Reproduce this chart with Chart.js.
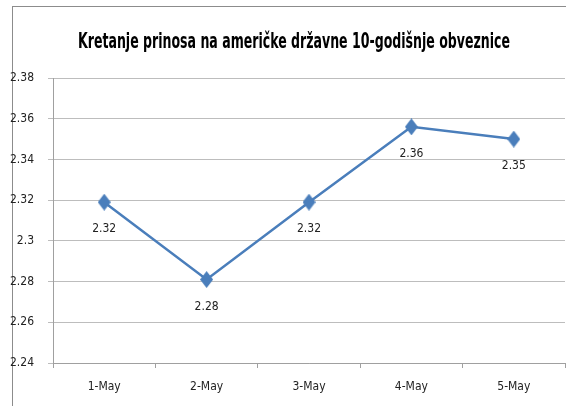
<!DOCTYPE html>
<html>
<head>
<meta charset="utf-8">
<script src="https://cdn.jsdelivr.net/npm/chart.js@4.4.1/dist/chart.umd.min.js"></script>
<style>
  html, body { margin: 0; padding: 0; background: #fff; }
  #wrap { position: relative; width: 566px; height: 406px; overflow: hidden; }
  #frame { position: absolute; left: 12px; top: 6px; width: 600px; height: 500px;
           border-left: 1px solid #8c8c8c; border-top: 1px solid #8c8c8c; }
  canvas { position: absolute; left: 0; top: 0; }
</style>
</head>
<body>
<div id="wrap">
  <div id="frame"></div>
  <canvas id="chart" width="566" height="406"></canvas>
</div>
<script>
const title = 'Kretanje prinosa na američke državne 10-godišnje obveznice';
const days = ['1-May', '2-May', '3-May', '4-May', '5-May'];
const yields = [2.319, 2.281, 2.319, 2.356, 2.350];
const yMin = 2.24, yMax = 2.38, yStep = 0.02;

const fontFamily = '"DejaVu Sans Condensed", "Liberation Sans Narrow", sans-serif';
const blue = '#4a7ebb';

// tall diamond marker like Excel's
function makeDiamond(w, h){
    const c = document.createElement('canvas');
    c.width = w; c.height = h;
    const g = c.getContext('2d');
    g.fillStyle = blue;
    g.beginPath();
    g.moveTo(w / 2, 0);
    g.lineTo(w, h / 2);
    g.lineTo(w / 2, h);
    g.lineTo(0, h / 2);
    g.closePath();
    g.fill();
    return c;
}

// draws the title (squeezed to Calibri-like width) and value labels under points
const textPlugin = {
    id: 'texts',
    afterDatasetsDraw(chart){
        const ctx = chart.ctx;
        ctx.save();
        ctx.fillStyle = '#000';
        ctx.textAlign = 'center';
        ctx.textBaseline = 'middle';
        ctx.font = 'bold 22px ' + fontFamily;
        const w = ctx.measureText(title).width;
        ctx.translate(294, 42);
        ctx.scale(Math.min(1, 432 / w), 1);
        ctx.fillText(title, 0, 0);
        ctx.restore();

        ctx.save();
        ctx.textAlign = 'center';
        ctx.textBaseline = 'middle';
        ctx.font = '12px ' + fontFamily;
        ctx.fillStyle = '#222';
        chart.getDatasetMeta(0).data.forEach(function(pt, i){
            ctx.fillText(yields[i].toFixed(2), pt.x, pt.y + 27);
        });
        ctx.restore();
    }
};

new Chart(document.getElementById('chart'), {
    type: 'line',
    data: {
        labels: days,
        datasets: [{
            data: yields,
            borderColor: blue,
            borderWidth: 2.5,
            pointStyle: makeDiamond(13, 17),
            pointRadius: 1,
            pointBorderWidth: 0,
            pointHoverRadius: 1,
            tension: 0
        }]
    },
    options: {
        responsive: false,
        animation: false,
        layout: { padding: { left: 0, right: 1, top: 78, bottom: 0 } },
        plugins: {
            legend: { display: false },
            tooltip: { enabled: false }
        },
        scales: {
            x: {
                offset: true,
                grid: { offset: true, drawOnChartArea: false, drawTicks: true, tickLength: 5, color: '#a0a0a0' },
                border: { color: '#a0a0a0' },
                ticks: { color: '#222', padding: 12, font: { family: fontFamily, size: 12 } },
                afterFit(scale){ scale.height = 43; }
            },
            y: {
                min: yMin,
                max: yMax,
                grid: { color: '#bdbdbd', tickLength: 5 },
                border: { color: '#a0a0a0' },
                ticks: {
                    stepSize: yStep,
                    color: '#222',
                    padding: 14,
                    font: { family: fontFamily, size: 12 },
                    callback: function(v){ return String(+v.toFixed(2)); }
                },
                afterFit(scale){ scale.width = 53; }
            }
        }
    },
    plugins: [textPlugin]
});
</script>
</body>
</html>
